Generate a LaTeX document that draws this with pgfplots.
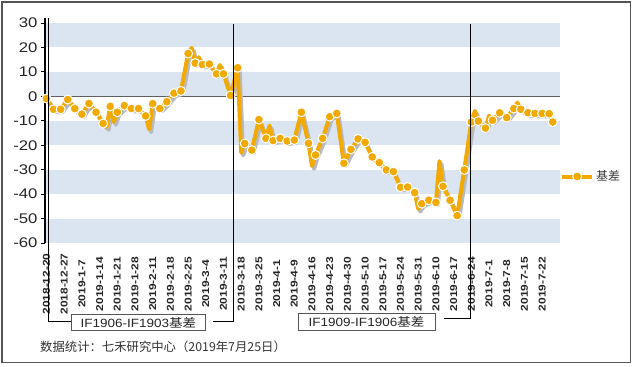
\documentclass[border=0pt]{standalone}
\usepackage{fontspec}
\setmainfont{Liberation Sans}
\newfontfamily\cjk{Noto Sans CJK SC}
\usepackage{graphicx}
\usepackage{pgfplots}
\usepackage{pgfplotstable}
\pgfplotsset{compat=1.18}
\definecolor{gold}{RGB}{242,169,0}
\definecolor{band}{RGB}{219,229,241}
\definecolor{shadowc}{RGB}{185,185,192}
\definecolor{framec}{RGB}{85,85,85}
\definecolor{zeroc}{RGB}{95,95,95}
\newcommand\XL[1]{\scalebox{1.2}[1]{#1}}
\newcommand\XB[1]{\scalebox{1.13}[1]{#1}}

\pgfplotstableread{
x y
0 -0.9
2 -5.3
4 -5.3
6 -1.3
8 -5
10 -7.3
12 -2.9
14 -6.5
16 -11.1
18 -4.1
20 -6.5
22 -3.8
24 -5
26 -5
28 -8
30 -3
32 -5
34 -2.2
36 1.3
38 2.2
40 17.5
42 13.6
44 13
46 13.2
48 9.2
50 9.2
52 0.4
54 11.7
56 -19.3
58 -22
60 -9.5
62 -17.2
64 -18.1
66 -17.2
68 -18.3
70 -17.9
72 -6.5
74 -19.2
76 -24
78 -17.2
80 -8.3
82 -7
84 -27.4
86 -21.7
88 -17.4
90 -18.8
92 -24.8
94 -27.1
96 -30.1
98 -30.8
100 -37.2
102 -37.1
104 -39.4
106 -43.9
108 -42.5
110 -43.4
112 -36.8
114 -42.5
116 -48.8
118 -30.1
120 -10.5
122 -10.1
124 -13
126 -9.8
128 -6.7
130 -8.7
132 -5
134 -5.3
136 -6.7
138 -7
140 -7
142 -7.1
143 -10.5
}\markdata

\pgfplotstableread{
x y
0 -0.9
2 -5.3
4 -5.3
6 -1.3
8 -5
10 -7.3
12 -2.9
14 -6.5
16 -11.1
17 -12.5
18 -4.1
19 -10.5
20 -6.5
22 -3.8
24 -5
26 -5
28 -8
29 -13.5
30 -3
32 -5
34 -2.2
36 1.3
38 2.2
40 17.5
41 19.8
42 13.6
43 16
44 13
46 13.2
48 9.2
49 12.8
50 9.2
52 0.4
54 11.7
55 -23
56 -19.3
58 -22
60 -9.5
62 -17.2
63 -12
64 -18.1
66 -17.2
68 -18.3
70 -17.9
72 -6.5
74 -19.2
75 -28.5
76 -24
78 -17.2
80 -8.3
82 -7
84 -27.4
86 -21.7
88 -17.4
90 -18.8
92 -24.8
94 -27.1
96 -30.1
98 -30.8
100 -37.2
102 -37.1
104 -39.4
105 -46
106 -43.9
108 -42.5
110 -43.4
111 -26.5
112 -36.8
114 -42.5
116 -48.8
118 -30.1
120 -10.5
121 -6
122 -10.1
124 -13
125 -8
126 -9.8
128 -6.7
130 -8.7
132 -5
133 -2.6
134 -5.3
136 -6.7
138 -7
140 -7
142 -7.1
143 -10.5
}\linedata

\begin{document}
\begin{tikzpicture}
\begin{scope}[x=1bp,y=1bp]
\useasboundingbox (0,0) rectangle (634,366);
\fill[white] (0,0) rectangle (634,366);
\draw[framec, line width=1.3bp] (2,3.3) rectangle (630.5,364);
\end{scope}
\begin{axis}[
  at={(45bp,123bp)}, anchor=south west, scale only axis,
  width=515bp, height=220bp,
  xmin=-0.42, xmax=145.05, ymin=-60, ymax=30,
  axis x line*=bottom, axis y line*=left,
  x axis line style={draw=none},
  y axis line style={black, line width=1.6bp, -},
  ytick={-60,-50,...,30},
  xtick={0,5,...,140},
  xticklabels={\XL{2018-12-20},\XL{2018-12-27},\XL{2019-1-7},\XL{2019-1-14},\XL{2019-1-21},\XL{2019-1-28},\XL{2019-2-11},\XL{2019-2-18},\XL{2019-2-25},\XL{2019-3-4},\XL{2019-3-11},\XL{2019-3-18},\XL{2019-3-25},\XL{2019-4-1},\XL{2019-4-9},\XL{2019-4-16},\XL{2019-4-23},\XL{2019-4-30},\XL{2019-5-10},\XL{2019-5-17},\XL{2019-5-24},\XL{2019-5-31},\XL{2019-6-10},\XL{2019-6-17},\XL{2019-6-24},\XL{2019-7-1},\XL{2019-7-8},\XL{2019-7-15},\XL{2019-7-22}},
  x tick style={draw=none},
  tick align=outside,
  major tick length=4bp,
  y tick style={black, line width=0.8bp},
  xticklabel style={yshift=-37bp, rotate=90, anchor=center, font=\bfseries\fontsize{10}{10}\selectfont, text=black!85},
  yticklabel={\scalebox{1.2}[1]{\pgfmathprintnumber[assume math mode=true]{\tick}}},
  yticklabel style={font=\fontsize{14}{14}\selectfont, text=black!85},
  legend image code/.code={\draw[mark repeat=2,mark phase=2,#1] plot coordinates {(0bp,0bp) (15bp,0bp) (30bp,0bp)};},
  legend style={at={(axis cs:145.05,-32.8)}, anchor=west, draw=none, fill=none, inner sep=0pt, font=\cjk\fontsize{12}{12}\selectfont, text=black!75},
  clip=false,
]
\fill[band] (axis cs:-0.2,20) rectangle (axis cs:145.05,30);
\fill[band] (axis cs:-0.2,0) rectangle (axis cs:145.05,10);
\fill[band] (axis cs:-0.2,-20) rectangle (axis cs:145.05,-10);
\fill[band] (axis cs:-0.2,-40) rectangle (axis cs:145.05,-30);
\fill[band] (axis cs:-0.2,-60) rectangle (axis cs:145.05,-50);
\draw[zeroc, line width=1.2bp] (axis cs:-0.42,0) -- (axis cs:145.05,0);
\addplot[forget plot, shadowc, line width=4bp, line join=round, xshift=2bp, yshift=-2.8bp] table {\linedata};
\addplot[forget plot, gold, line width=4bp, line join=round] table {\linedata};
\addplot[forget plot, only marks, mark=*, mark size=4.5bp, mark options={fill=gold, draw=white, line width=1bp}] table {\markdata};
\addlegendimage{gold, line width=4bp, mark=*, mark size=4.5bp, mark options={fill=gold, draw=white, line width=1bp}}
\addlegendentry{基差}
\end{axis}
\begin{scope}[x=1bp,y=1bp]
\draw[black, line width=1.6bp] (45,343) -- (45,348);
\draw[black, line width=0.9bp] (48.5,348) -- (48.5,45) -- (71,45);
\draw[black, line width=0.9bp] (213,45) -- (233.3,45) -- (233.3,342);
\draw[black, line width=0.9bp] (444.3,48) -- (470,48) -- (470,342);
\node[draw=framec, line width=0.8bp, minimum width=134.7bp, minimum height=16.7bp, inner sep=0pt, font=\fontsize{12}{12}\selectfont, text=black!85] at (138.35,43.65) {\XB{IF1906-IF1903{\cjk 基差}}};
\node[draw=framec, line width=0.8bp, minimum width=137bp, minimum height=17.7bp, inner sep=0pt, font=\fontsize{12}{12}\selectfont, text=black!85] at (366.5,44.1) {\XB{IF1909-IF1906{\cjk 基差}}};
\node[anchor=west, inner sep=0pt, font=\cjk\fontsize{12.4}{12.4}\selectfont, text=black!80] at (40,19) {数据统计：七禾研究中心（2019年7月25日）};
\end{scope}
\end{tikzpicture}
\end{document}
